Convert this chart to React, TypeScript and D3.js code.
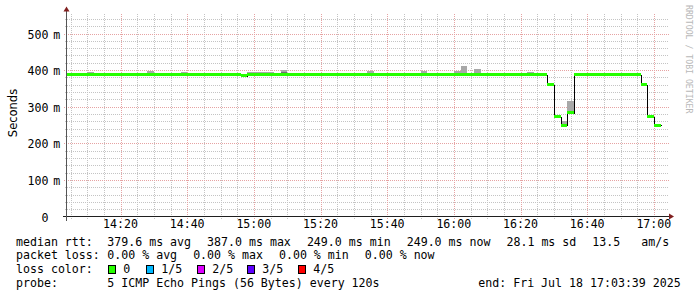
import React from 'react';
import * as d3 from 'd3';

// ---- data ----
const medianTimes = ["14:02", "14:56", "14:58", "16:28", "16:30", "16:32", "16:34", "16:36", "16:56", "16:58", "17:00", "17:02"];
const medianValues = [387, 385, 387, 360, 272, 249, 284, 387, 360, 272, 249]; // each value holds until the next time

const smokeTimes = ["14:10", "14:28", "14:38", "14:58", "15:00", "15:02", "15:04", "15:08", "15:34", "15:50", "16:00", "16:02", "16:06", "16:22", "16:32", "16:34"];
const smokeTops = [393, 396, 393, 393, 393, 393, 393, 399, 396, 396, 396, 410, 402, 393, 260, 313];
const smokeInnerTimes = ["15:08"];
const smokeInnerTops = [393];

const xTickLabels = ["14:20", "14:40", "15:00", "15:20", "15:40", "16:00", "16:20", "16:40", "17:00"];
const yTickValues = [0, 100, 200, 300, 400, 500];
const yTickLabels = ["0", "100", "200", "300", "400", "500"];
const yTickUnits = ["", "m", "m", "m", "m", "m"];

const lossLabels = ["0", "1/5", "2/5", "3/5", "4/5"];
const lossColors = ["#26ff00", "#00b8ff", "#dd00ff", "#5e00ff", "#ff0000"];

const medianStats = ["379.6 ms avg", "387.0 ms max", "249.0 ms min", "249.0 ms now", "28.1 ms sd", "13.5"];
const amsUnit = "am/s";
const lossStats = ["0.00 % avg", "0.00 % max", "0.00 % min", "0.00 % now"];
const probeText = "5 ICMP Echo Pings (56 Bytes) every 120s";
const endText = "end: Fri Jul 18 17:03:39 2025";

// ---- helpers ----
const parse = d3.timeParse("%Y-%m-%d %H:%M:%S");
const T = (s: string) => parse("2025-07-18 " + (s.length === 5 ? s + ":00" : s)) as Date;

const W = 697, H = 297;
const X0 = 67, X1 = 667, Y0 = 216.5, Y1 = 13.5;
const MONO = "'DejaVu Sans Mono', monospace";
const FS = 11.6;
const CW = FS * 0.602; // monospace advance

export default function App() {
  const x = d3.scaleTime().domain([T("14:04:06"), T("17:04:06")]).range([X0 + 0.5, X1 + 0.5]);
  const y = d3.scaleLinear().domain([0, 500]).range([Y0, Y0 - 183]);
  const yMax = y.invert(Y1);

  // grid
  const minorX = d3.timeMinute.every(5)!.range(T("14:04:06"), T("17:04:06")).filter(d => d.getMinutes() % 20 !== 0);
  const majorX = d3.timeMinute.every(20)!.range(T("14:04:06"), T("17:04:06"));
  const minorY = d3.range(20, yMax, 20).filter(v => v % 100 !== 0);
  const majorY = yTickValues.filter(v => v > 0);

  const step = 2 * 60 * 1000;
  const rx = (d: Date) => Math.round(x(d));
  const bandTop = (v: number) => Math.round(y(v) - 1.5);

  // median step line
  const linePts: [Date, number][] = medianValues.map((v, i) => [T(medianTimes[i]), v]);
  linePts.push([T(medianTimes[medianTimes.length - 1]), medianValues[medianValues.length - 1]]);
  const lineGen = d3.line<[Date, number]>()
    .x(d => rx(d[0]) + 0.5)
    .y(d => Math.round(y(d[1])) + 0.5)
    .curve(d3.curveStepAfter);

  const medianAt = (d: Date) => {
    let v = medianValues[0];
    medianTimes.forEach((t, i) => { if (i < medianValues.length && T(t) <= d) v = medianValues[i]; });
    return v;
  };

  const crisp = { shapeRendering: 'crispEdges' as const };

  // legend layout: chunks separated by a fixed glue
  const GLUE = 16;
  const chunkX = (start: number, items: string[]) => {
    const xs: number[] = [];
    let cx = start;
    items.forEach(s => { xs.push(cx); cx += s.length * CW + GLUE; });
    return xs;
  };
  const medX = chunkX(107.3, medianStats);
  const amsX = medX[5] + 7 * CW;
  const lossX = chunkX(107.3, lossStats);

  return (
    <svg width={W} height={H} style={{ position: 'absolute', left: 0, top: 0, background: '#fff' }}
      xmlns="http://www.w3.org/2000/svg">
      <defs>
        <clipPath id="plot"><rect x={X0} y={Y1 - 1} width={X1 - X0} height={Y0 - Y1 + 1} /></clipPath>
      </defs>
      <rect x={0} y={0} width={W} height={H} fill="#fff" />

      {/* minor grid */}
      <g stroke="#c4c4c4" strokeWidth={1} strokeDasharray="1,1" {...crisp}>
        {minorX.map((d, i) => (
          <line key={'mx' + i} x1={rx(d) + 0.5} x2={rx(d) + 0.5} y1={Y1} y2={Y0 + 2} />
        ))}
        {minorY.map((v, i) => (
          <line key={'my' + i} x1={X0 - 2} x2={X1 + 2} y1={Math.round(y(v)) + 0.5} y2={Math.round(y(v)) + 0.5} />
        ))}
      </g>
      {/* major grid */}
      <g stroke="#e6a3a3" strokeWidth={1} strokeDasharray="1,1" {...crisp}>
        {majorX.map((d, i) => (
          <line key={'Mx' + i} x1={rx(d) + 0.5} x2={rx(d) + 0.5} y1={Y1} y2={Y0 + 3} />
        ))}
        {majorY.map((v, i) => (
          <line key={'My' + i} x1={X0 - 3} x2={X1 + 3} y1={Math.round(y(v)) + 0.5} y2={Math.round(y(v)) + 0.5} />
        ))}
      </g>

      <g clipPath="url(#plot)" {...crisp}>
        {/* smoke */}
        {smokeTimes.map((t, i) => {
          const d = T(t);
          const top = Math.floor(y(smokeTops[i]));
          const bot = bandTop(medianAt(d));
          return <rect key={'s' + i} x={rx(d)} width={rx(new Date(+d + step)) - rx(d)} y={top} height={Math.max(0, bot - top)} fill="#a8a8a8" />;
        })}
        {smokeInnerTimes.map((t, i) => {
          const d = T(t);
          const top = Math.floor(y(smokeInnerTops[i]));
          const bot = bandTop(medianAt(d));
          return <rect key={'si' + i} x={rx(d)} width={rx(new Date(+d + step)) - rx(d)} y={top} height={Math.max(0, bot - top)} fill="#707070" />;
        })}
        {/* median line */}
        <path d={lineGen(linePts) || ''} fill="none" stroke="#000" strokeWidth={1} />
        {/* loss-colored median band */}
        {medianValues.map((v, i) => {
          const a = T(medianTimes[i]), b = T(medianTimes[i + 1]);
          return <rect key={'m' + i} x={rx(a)} width={rx(b) - rx(a)} y={bandTop(v)} height={3} fill={lossColors[0]} />;
        })}
      </g>

      {/* axes */}
      <line x1={X0 - 4} x2={X1 + 4} y1={Y0} y2={Y0} stroke="#1f1f1f" strokeWidth={1} {...crisp} />
      <line x1={X0 - 0.5} x2={X0 - 0.5} y1={Y0 + 4} y2={Y1 - 4} stroke="#555" strokeWidth={1} {...crisp} />
      <path d={`M${X1 + 2},${Y0 - 3}L${X1 + 2},${Y0 + 3}L${X1 + 7},${Y0}Z`} fill="#801f1f" />
      <path d={`M${X0 - 3.5},${Y1 - 2}L${X0 + 2.5},${Y1 - 2}L${X0 - 0.5},${Y1 - 7}Z`} fill="#801f1f" />

      {/* tick labels */}
      <g fontFamily={MONO} fontSize={FS} fill="#000">
        {xTickLabels.map((s, i) => (
          <text key={'xl' + i} x={x(T(s))} y={228.3} textAnchor="middle">{s}</text>
        ))}
        {yTickValues.map((v, i) => (
          <g key={'yl' + i}>
            <text x={48.5} y={Math.round(y(v)) + 4.5} textAnchor="end">{yTickLabels[i]}</text>
            <text x={53.3} y={Math.round(y(v)) + 4.5}>{yTickUnits[i]}</text>
          </g>
        ))}
      </g>

      {/* axis title */}
      <text transform="translate(17,113) rotate(-90)" textAnchor="middle" fontFamily="'DejaVu Sans', sans-serif" fontSize={11.5} fill="#000">Seconds</text>

      {/* watermark */}
      <text transform="translate(686,5) rotate(90)" fontFamily={MONO} fontSize={8.2} fill="#b8b8b8">RRDTOOL / TOBI OETIKER</text>

      {/* legend */}
      <g fontFamily={MONO} fontSize={FS} fill="#000">
        <text x={16} y={245.5}>median rtt:</text>
        {medianStats.map((s, i) => (
          <text key={'ms' + i} x={medX[i]} y={245.5}>{s}</text>
        ))}
        <text x={amsX} y={245.5}>{amsUnit}</text>
        <text x={16} y={259.3}>packet loss:</text>
        {lossStats.map((s, i) => (
          <text key={'ls' + i} x={lossX[i]} y={259.3}>{s}</text>
        ))}
        <text x={16} y={273.2}>loss color:</text>
        {lossLabels.map((s, i) => {
          const bx = [108, 146, 197, 247, 298][i];
          return (
            <g key={'lc' + i}>
              <rect x={bx + 0.5} y={265.5} width={7} height={8} fill={lossColors[i]} stroke="#000" strokeWidth={1} />
              <text x={bx + 15.3} y={273.2}>{s}</text>
            </g>
          );
        })}
        <text x={16} y={287}>probe:</text>
        <text x={107.3} y={287}>{probeText}</text>
        <text x={478.3} y={287}>{endText}</text>
      </g>
    </svg>
  );
}
